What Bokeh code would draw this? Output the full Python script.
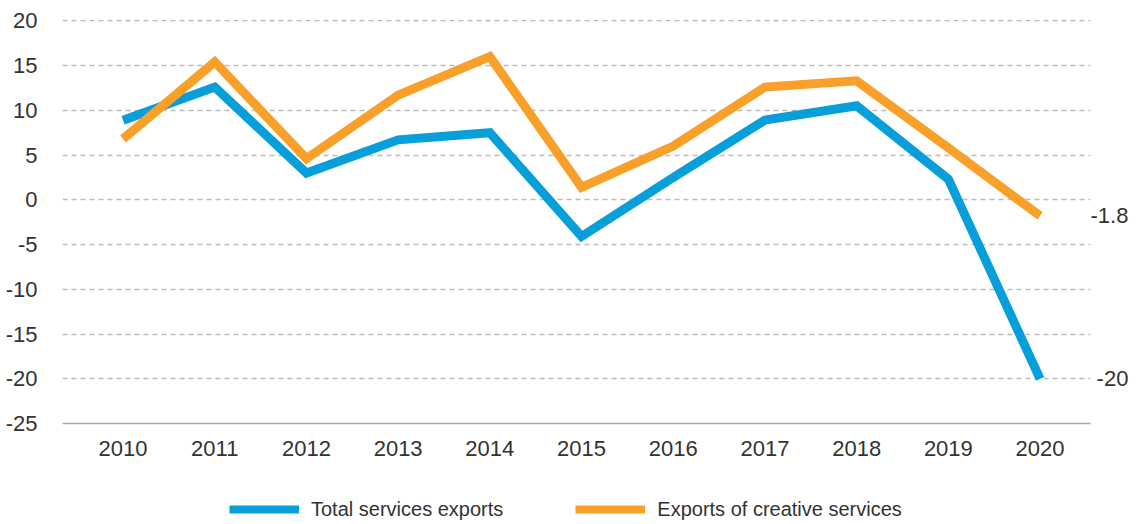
from bokeh.plotting import figure
from bokeh.layouts import column
from bokeh.models import (Range1d, FixedTicker, Legend, LegendItem, ColumnDataSource,
                          LinearAxis, CustomJSTickFormatter)
from bokeh.embed import file_html
from bokeh.resources import INLINE

years = [2010, 2011, 2012, 2013, 2014, 2015, 2016, 2017, 2018, 2019, 2020]
total_services = [8.9, 12.6, 3.0, 6.7, 7.5, -4.1, 2.5, 8.9, 10.5, 2.3, -20.0]
creative_services = [6.8, 15.4, 4.6, 11.7, 16.0, 1.4, 6.0, 12.6, 13.3, 5.8, -1.8]
y_ticks = [-25, -20, -15, -10, -5, 0, 5, 10, 15, 20]
end_values = [creative_services[-1], total_services[-1]]
series_names = ["Total services exports", "Exports of creative services"]

BLUE = "#079FD9"
ORANGE = "#F8A02A"
TEXT = "#333333"
FONT = "Liberation Sans"

BL, BR, FW = 62, 40, 1028
p = figure(
    frame_width=FW, frame_height=404,
    min_border_left=BL, min_border_right=BR, min_border_top=19, min_border_bottom=47,
    x_range=Range1d(2009.34, 2020.55), y_range=Range1d(-25, 20.15),
    output_backend="svg", toolbar_location=None,
)
p.outline_line_color = None
p.background_fill_color = "white"
p.border_fill_color = "white"

src = ColumnDataSource(dict(x=years, total=total_services, creative=creative_services))
r1 = p.line("x", "total", source=src, line_color=BLUE, line_width=9, line_join="miter")
r2 = p.line("x", "creative", source=src, line_color=ORANGE, line_width=9, line_join="miter")

plain = CustomJSTickFormatter(code="return tick.toString();")

p.yaxis.ticker = FixedTicker(ticks=y_ticks)
p.yaxis.formatter = plain
p.yaxis.axis_line_color = None
p.yaxis.major_tick_line_color = None
p.yaxis.minor_tick_line_color = None
p.yaxis.major_label_standoff = 19
p.yaxis.major_label_text_font = FONT
p.yaxis.major_label_text_font_size = "22px"
p.yaxis.major_label_text_color = TEXT

p.xaxis.ticker = FixedTicker(ticks=years)
p.xaxis.axis_line_color = "#AAAAAA"
p.xaxis.axis_line_width = 1.5
p.xaxis.major_tick_line_color = None
p.xaxis.minor_tick_line_color = None
p.xaxis.major_label_standoff = 11
p.xaxis.major_label_text_font = FONT
p.xaxis.major_label_text_font_size = "22px"
p.xaxis.major_label_text_color = TEXT

p.xgrid.grid_line_color = None
p.ygrid.ticker = FixedTicker(ticks=y_ticks[1:])
p.ygrid.grid_line_color = "#BBBBBB"
p.ygrid.grid_line_width = 1.5
p.ygrid.grid_line_dash = "5 4"

right = LinearAxis(
    ticker=FixedTicker(ticks=end_values),
    formatter=CustomJSTickFormatter(code="return tick == -20 ? '\u2008-20' : tick.toString();"),
    axis_line_color=None, major_tick_line_color=None, minor_tick_line_color=None,
    major_label_standoff=-6, major_label_text_font=FONT, major_label_text_font_size="22px",
    major_label_text_color=TEXT,
)
p.add_layout(right, "right")

# legend strip
lg = figure(
    width=BL + FW + BR, height=52, min_border=0,
    x_range=Range1d(0, 1), y_range=Range1d(0, 1),
    output_backend="svg", toolbar_location=None,
)
lg.axis.visible = False
lg.grid.visible = False
lg.outline_line_color = None
l1 = lg.line(x=[5, 6], y=[5, 6], line_color=BLUE, line_width=8)
l2 = lg.line(x=[5, 6], y=[5, 6], line_color=ORANGE, line_width=8)
legend = Legend(
    items=[LegendItem(label=series_names[0], renderers=[l1]),
           LegendItem(label=series_names[1], renderers=[l2])],
    orientation="horizontal", location=(167, 1),
    glyph_width=70, glyph_height=24, label_height=24, label_standoff=12, spacing=72,
    padding=0, margin=0, border_line_color=None, background_fill_alpha=0,
    label_text_font=FONT, label_text_font_size="20px", label_text_color=TEXT,
)
lg.add_layout(legend)

layout = column(p, lg, spacing=0)
open("out.html", "w").write(file_html(layout, INLINE))
